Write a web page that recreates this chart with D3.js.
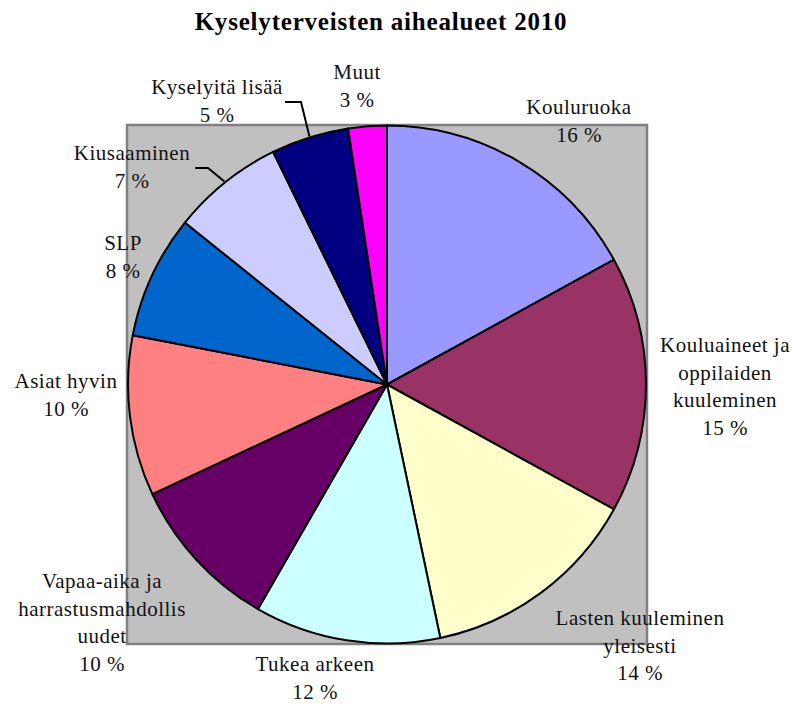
<!DOCTYPE html>
<html>
<head>
<meta charset="utf-8">
<script src="https://cdn.jsdelivr.net/npm/d3@7"></script>
<style>
  html, body { margin: 0; padding: 0; background: #fff; }
  svg { display: block; }
  text { font-family: "Liberation Serif", "Times New Roman", serif; }
</style>
</head>
<body>
<svg id="chart" width="794" height="704"></svg>
<script>
// ---- data ----
const title = "Kyselyterveisten aihealueet 2010";
const categories = [
  "Kouluruoka",
  "Kouluaineet ja oppilaiden kuuleminen",
  "Lasten kuuleminen yleisesti",
  "Tukea arkeen",
  "Vapaa-aika ja harrastusmahdollisuudet",
  "Asiat hyvin",
  "SLP",
  "Kiusaaminen",
  "Kyselyitä lisää",
  "Muut"
];
// slice shares (angles)
const values = [17.0, 16.0, 13.7, 11.6, 9.75, 10.0, 7.7, 7.0, 4.85, 2.4];
// percentage labels as printed on the chart
const percentLabels = ["16 %", "15 %", "14 %", "12 %", "10 %", "10 %", "8 %", "7 %", "5 %", "3 %"];
// label text lines as wrapped on the chart
const labelLines = [
  ["Kouluruoka"],
  ["Kouluaineet ja", "oppilaiden", "kuuleminen"],
  ["Lasten kuuleminen", "yleisesti"],
  ["Tukea arkeen"],
  ["Vapaa-aika ja", "harrastusmahdollis", "uudet"],
  ["Asiat hyvin"],
  ["SLP"],
  ["Kiusaaminen"],
  ["Kyselyitä lisää"],
  ["Muut"]
];
const colors = ["#9999FF", "#993366", "#FFFFCC", "#CCFFFF", "#660066",
                "#FF8080", "#0066CC", "#CCCCFF", "#000080", "#FF00FF"];

// ---- layout ----
const W = 794, H = 704;
const plot = { x: 127, y: 125, w: 520, h: 519 };
const cx = 387, cy = 384.5, R = 259;
// label anchor (center x, first baseline y)
const labelPos = [
  [579, 114], [725, 352], [640, 625], [315, 671], [102, 588],
  [66, 388], [123, 250], [132, 160], [217, 94], [357, 79]
];
const lineH = 27.5;
// leader lines: [start x, y, elbow x] then to arc edge
const leaders = {
  7: [195, 168, 208],
  8: [285, 102, 301]
};

const svg = d3.select("#chart");

svg.append("text")
  .attr("x", 381).attr("y", 30)
  .attr("text-anchor", "middle")
  .attr("font-weight", "bold")
  .attr("font-size", 25)
  .attr("letter-spacing", 0.8)
  .attr("fill", "#000")
  .text(title);

svg.append("rect")
  .attr("x", plot.x).attr("y", plot.y)
  .attr("width", plot.w).attr("height", plot.h)
  .attr("fill", "#C0C0C0")
  .attr("stroke", "#808080")
  .attr("stroke-width", 2.5);

const pie = d3.pie().sort(null).value(d => d);
const arcs = pie(values);
const arc = d3.arc().innerRadius(0).outerRadius(R);

const g = svg.append("g").attr("transform", `translate(${cx},${cy})`);
g.selectAll("path")
  .data(arcs)
  .join("path")
  .attr("d", arc)
  .attr("fill", (d, i) => colors[i])
  .attr("stroke", "#000")
  .attr("stroke-width", 2)
  .attr("stroke-linejoin", "round");

// leader lines
Object.entries(leaders).forEach(([k, p]) => {
  const a = arcs[+k];
  const mid = (a.startAngle + a.endAngle) / 2;
  const ex = cx + (R + 1) * Math.sin(mid);
  const ey = cy - (R + 1) * Math.cos(mid);
  svg.append("path")
    .attr("d", `M${p[0]},${p[1]}H${p[2]}L${ex},${ey}`)
    .attr("fill", "none")
    .attr("stroke", "#000")
    .attr("stroke-width", 2);
});

// labels
const lab = svg.append("g")
  .attr("font-size", 21)
  .attr("letter-spacing", 0.5)
  .attr("fill", "#111")
  .attr("text-anchor", "middle");

labelLines.forEach((lines, i) => {
  const [x, y] = labelPos[i];
  const t = lab.append("text").attr("x", x).attr("y", y);
  lines.concat([percentLabels[i]]).forEach((s, j) => {
    t.append("tspan").attr("x", x).attr("y", y + j * lineH).text(s);
  });
});
</script>
</body>
</html>
